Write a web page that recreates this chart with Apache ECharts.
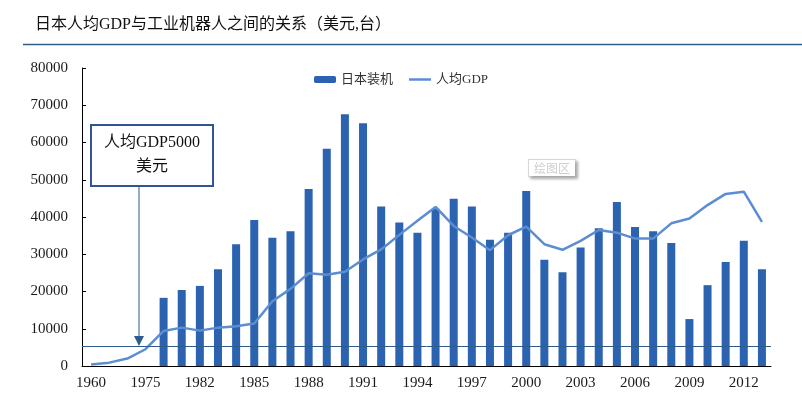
<!DOCTYPE html>
<html>
<head>
<meta charset="utf-8">
<script src="https://cdn.jsdelivr.net/npm/echarts@6/dist/echarts.min.js"></script>
<style>
  html, body { margin: 0; padding: 0; background: #fff; }
  #chart { width: 802px; height: 397px; }
</style>
</head>
<body>
<div id="chart"></div>
<script>
// 年份（1960-1975 每五年一个，之后逐年）
const years = ['1960', '1965', '1970', '1975',
    '1980', '1981', '1982', '1983', '1984', '1985', '1986', '1987', '1988', '1989',
    '1990', '1991', '1992', '1993', '1994', '1995', '1996', '1997', '1998', '1999',
    '2000', '2001', '2002', '2003', '2004', '2005', '2006', '2007', '2008', '2009',
    '2010', '2011', '2012', '2013'];

// 日本装机（台）
const robots = [null, null, null, null,
    18300, 20400, 21500, 26000, 32700, 39200, 34400, 36200, 47500, 58300,
    67600, 65200, 42800, 38500, 35800, 42200, 44900, 42800, 33900, 35800,
    47000, 28500, 25200, 31800, 37000, 44000, 37300, 36200, 33000, 12600,
    21700, 27900, 33600, 26000];

// 人均GDP（美元）
const gdp = [400, 900, 2000, 4500,
    9400, 10300, 9500, 10300, 10700, 11400, 17400, 20700, 24900, 24500,
    25300, 28600, 31300, 35200, 39000, 42700, 37600, 34500, 31100, 35100,
    37400, 32700, 31200, 33600, 36500, 35800, 34200, 34200, 38300, 39600,
    43200, 46200, 46800, 38700];

// 5000美元参考线
const refLine = 5300;

const serif = '"Liberation Serif", "Noto Sans CJK SC", serif';
// 图例里的细线（两个小点撑开包围盒）
const lineIcon = 'path://M0,2.3 L22,2.3 L22,4.7 L0,4.7 Z M0,0 L0.01,0 L0.01,0.01 Z M0,7 L0.01,7 L0.01,7.01 Z';
const chart = echarts.init(document.getElementById('chart'));

chart.setOption({
    animation: false,
    backgroundColor: '#fff',
    grid: { left: 82, right: 31, top: 68, bottom: 31 },
    legend: {
        top: 68,
        left: 'center',
        itemWidth: 22,
        itemHeight: 7,
        itemGap: 16,
        textStyle: { fontFamily: serif, fontSize: 13, color: '#333' },
        data: ['日本装机', { name: '人均GDP', icon: lineIcon }]
    },
    xAxis: {
        type: 'category',
        data: years,
        axisLine: { lineStyle: { color: '#000', width: 1 } },
        axisTick: { inside: true, length: 4, interval: 0, lineStyle: { color: '#000' } },
        axisLabel: { interval: 2, margin: 10, fontFamily: serif, fontSize: 15, color: '#1a1a1a' },
        splitLine: { show: false }
    },
    yAxis: {
        type: 'value',
        min: 0,
        max: 80000,
        interval: 10000,
        axisLine: { show: true, lineStyle: { color: '#000', width: 1 } },
        axisTick: { show: true, inside: true, length: 4, lineStyle: { color: '#000' } },
        axisLabel: { margin: 14, fontFamily: serif, fontSize: 15, color: '#1a1a1a', formatter: v => String(v) },
        splitLine: { show: false }
    },
    series: [
        {
            name: '日本装机',
            type: 'bar',
            data: robots,
            barWidth: 8,
            itemStyle: { color: '#2b63b1' },
            markLine: {
                silent: true,
                symbol: 'none',
                label: { show: false },
                lineStyle: { color: '#2f5b8c', width: 1, type: 'solid' },
                data: [{ yAxis: refLine }]
            }
        },
        {
            name: '人均GDP',
            type: 'line',
            data: gdp,
            symbol: 'none',
            lineStyle: { color: '#5b8dd3', width: 2.5 },
            itemStyle: { color: '#5b8dd3' },
            z: 3
        }
    ],
    graphic: [
        // 标题
        {
            type: 'text', left: 35, top: 17,
            style: { text: '日本人均GDP与工业机器人之间的关系（美元,台）', font: '16px ' + serif, fill: '#111' }
        },
        {
            type: 'line', shape: { x1: 23, y1: 44.5, x2: 802, y2: 44.5 },
            style: { stroke: '#2e5d8a', lineWidth: 1.5 }
        },
        // 注释框
        {
            type: 'rect', shape: { x: 91, y: 125, width: 122, height: 61 },
            style: { fill: '#fff', stroke: '#2f5597', lineWidth: 2 }
        },
        {
            type: 'text', x: 152, y: 155,
            style: { text: '人均GDP5000\n美元', font: '16px ' + serif, fill: '#111', align: 'center', verticalAlign: 'middle', lineHeight: 24 }
        },
        {
            type: 'line', shape: { x1: 139, y1: 187, x2: 139, y2: 338 },
            style: { stroke: '#2f5b8c', lineWidth: 1 }
        },
        {
            type: 'polygon', shape: { points: [[134, 336], [144, 336], [139, 346]] },
            style: { fill: '#2f5b8c' }
        },
        // Excel 残留提示
        {
            type: 'text', left: 528, top: 159,
            style: {
                text: '绘图区', font: '12px "Noto Sans CJK SC"', fill: '#cfcfcf',
                backgroundColor: '#fff', borderColor: '#d8d8d8', borderWidth: 1, padding: [2, 5],
                shadowColor: 'rgba(0,0,0,0.3)', shadowBlur: 3, shadowOffsetX: 2, shadowOffsetY: 2
            }
        }
    ]
});
</script>
</body>
</html>
